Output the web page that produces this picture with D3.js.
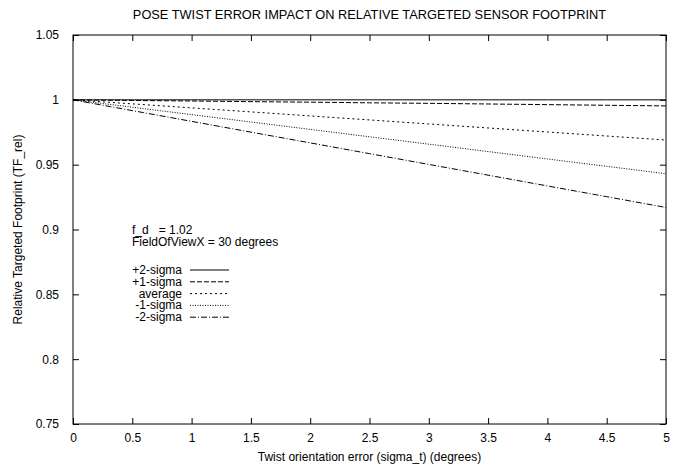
<!DOCTYPE html>
<html><head><meta charset="utf-8">
<script src="https://cdn.jsdelivr.net/npm/d3@7"></script>
<style>body{margin:0;background:#fff}svg{display:block}text{font-family:"Liberation Sans",Arial,sans-serif;fill:#000}</style>
</head><body>
<script>
const xValues = [0, 0.5, 1, 1.5, 2, 2.5, 3, 3.5, 4, 4.5, 5];
const seriesNames = ["+2-sigma", "+1-sigma", "average", "-1-sigma", "-2-sigma"];
const plus2 = [1, 1, 1, 1, 1, 1, 1, 1, 1, 1, 1];
const plus1 = [1, 0.9995, 0.9991, 0.9986, 0.9982, 0.9977, 0.9973, 0.9968, 0.9963, 0.9958, 0.9953];
const average = [1, 0.9969, 0.9938, 0.9907, 0.9876, 0.9845, 0.9814, 0.9783, 0.9752, 0.9721, 0.9690];
const minus1 = [1, 0.9943, 0.9886, 0.9829, 0.9772, 0.9715, 0.9658, 0.9601, 0.9544, 0.9487, 0.9430];
const minus2 = [1, 0.9917, 0.9834, 0.9751, 0.9668, 0.9585, 0.9502, 0.9419, 0.9336, 0.9253, 0.9170];
const xTicks = [0, 0.5, 1, 1.5, 2, 2.5, 3, 3.5, 4, 4.5, 5];
const yTicks = [0.75, 0.8, 0.85, 0.9, 0.95, 1, 1.05];
const dashes = [null, "5,2", "2,3", "1,1.5", "6,2,1,2"];
const series = [plus2, plus1, average, minus1, minus2];

const W = 695, H = 469;
const L = 73, R = 666, T = 35, B = 424;
const svg = d3.select("body").append("svg").attr("width", W).attr("height", H);
const x = d3.scaleLinear().domain([0, 5]).range([L, R]);
const y = d3.scaleLinear().domain([0.75, 1.05]).range([B, T]);

// axes
const fmt = d => String(d);
const gB = svg.append("g").attr("transform", `translate(0,${B})`)
  .call(d3.axisBottom(x).tickValues(xTicks).tickFormat(fmt).tickSize(-6).tickPadding(9));
const gT = svg.append("g").attr("transform", `translate(0,${T})`)
  .call(d3.axisTop(x).tickValues(xTicks).tickFormat("").tickSize(-6));
const gL = svg.append("g").attr("transform", `translate(${L},0)`)
  .call(d3.axisLeft(y).tickValues(yTicks).tickFormat(fmt).tickSize(-6).tickPadding(14));
const gR = svg.append("g").attr("transform", `translate(${R},0)`)
  .call(d3.axisRight(y).tickValues(yTicks).tickFormat("").tickSize(-6));
[gB, gT, gL, gR].forEach(g => {
  g.select(".domain").remove();
  g.selectAll("line").attr("stroke", "#000");
  g.selectAll("text").style("font-size", "12px").style("font-family", "Liberation Sans, Arial, sans-serif");
});
svg.append("rect").attr("x", L).attr("y", T).attr("width", R - L).attr("height", B - T)
  .attr("fill", "none").attr("stroke", "#000").attr("stroke-width", 1);

// lines
const line = d3.line().x((d, i) => x(xValues[i])).y(d => y(d));
series.forEach((s, k) => {
  svg.append("path").datum(s).attr("d", line).attr("fill", "none")
    .attr("stroke", "#000").attr("stroke-width", 1)
    .attr("stroke-dasharray", dashes[k]);
});

// title and labels
svg.append("text").attr("x", (L + R) / 2).attr("y", 19).attr("text-anchor", "middle")
  .style("font-size", "12.8px").text("POSE TWIST ERROR IMPACT ON RELATIVE TARGETED SENSOR FOOTPRINT");
svg.append("text").attr("x", (L + R) / 2).attr("y", 461).attr("text-anchor", "middle")
  .style("font-size", "12px").text("Twist orientation error (sigma_t) (degrees)");
svg.append("text").attr("transform", `translate(22,${(T + B) / 2}) rotate(-90)`).attr("text-anchor", "middle")
  .style("font-size", "12px").text("Relative Targeted Footprint (TF_rel)");

// annotation
svg.append("text").attr("x", 132).attr("y", 234).style("font-size", "12px")
  .style("white-space", "pre").text("f_d   = 1.02");
svg.append("text").attr("x", 132).attr("y", 246).style("font-size", "12px").text("FieldOfViewX = 30 degrees");

// legend
seriesNames.forEach((n, k) => {
  const yy = 270 + k * 11.8;
  svg.append("text").attr("x", 182).attr("y", yy + 4).attr("text-anchor", "end")
    .style("font-size", "12px").text(n);
  svg.append("line").attr("x1", 190).attr("x2", 229).attr("y1", yy).attr("y2", yy)
    .attr("stroke", "#000").attr("stroke-width", 1).attr("stroke-dasharray", dashes[k]);
});
</script>
</body></html>
